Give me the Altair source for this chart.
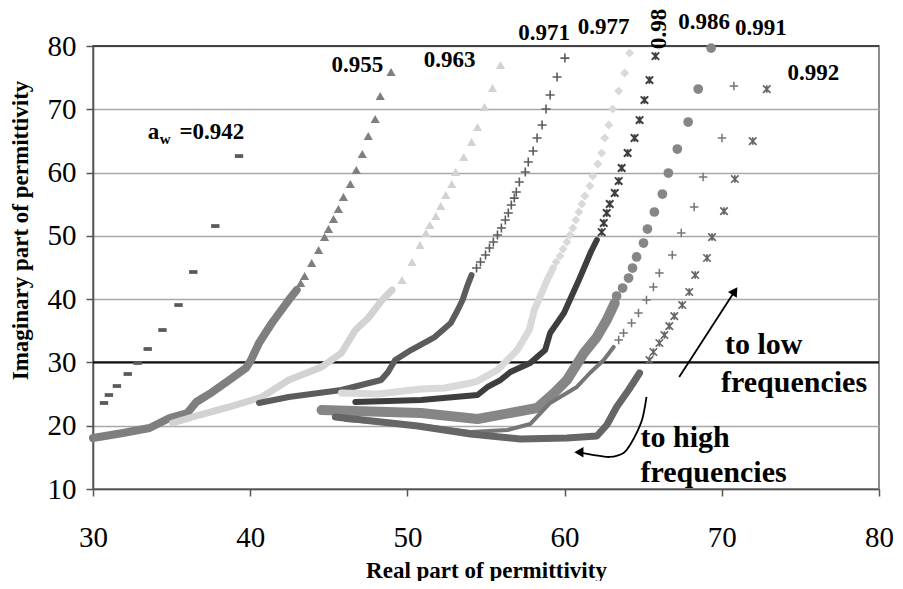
import altair as alt
import pandas as pd

# ---------------- data ----------------
# a_w = 0.942 (dash markers only)
m942_x = [30.70, 31.01, 31.52, 32.21, 32.84, 33.48, 34.42, 35.44, 36.38, 37.78, 39.29]
m942_y = [23.59, 24.85, 26.27, 28.17, 29.91, 32.12, 35.12, 39.07, 44.29, 51.55, 62.61]

# 0.955 triangles
t955_x = [30.00, 31.90, 33.60, 34.87, 36.00, 36.57, 37.59, 38.85, 39.73, 40.05, 40.56, 41.38, 42.45, 42.96]
t955_y = [18.06, 18.85, 19.64, 21.22, 22.01, 23.75, 25.32, 27.54, 29.12, 30.38, 33.07, 36.23, 39.86, 41.44]
m955_x = [43.21, 43.46, 43.91, 44.35, 44.73, 44.98, 45.30, 45.61, 45.93, 46.37, 46.75, 47.13, 47.51, 47.95, 48.27, 48.96]
m955_y = [42.55, 43.65, 45.70, 47.76, 49.81, 51.08, 52.66, 54.24, 56.13, 58.19, 60.40, 62.93, 65.77, 68.46, 72.09, 75.89]

# 0.963 light triangles
t963_x = [35.06, 36.76, 38.66, 40.75, 42.45, 44.54, 45.80, 46.69, 47.51, 48.39, 49.03]
t963_y = [20.43, 21.69, 22.96, 24.54, 27.22, 29.28, 31.49, 35.12, 37.02, 39.86, 41.44]
m963_x = [49.66, 50.29, 50.80, 51.18, 51.43, 51.81, 52.12, 52.44, 52.82, 53.07, 53.58, 54.08, 54.46, 54.91, 55.41, 55.92]
m963_y = [43.02, 45.87, 48.55, 50.44, 51.71, 53.13, 54.71, 56.45, 58.19, 60.08, 62.45, 64.82, 67.19, 70.35, 73.35, 76.98]

# 0.971 plus
t971_x = [40.56, 42.45, 45.80, 48.33, 48.77, 49.22, 50.23, 51.74, 52.76, 53.20, 53.51, 53.83, 54.08]
t971_y = [23.59, 24.54, 25.64, 27.22, 28.49, 30.38, 31.96, 34.01, 36.23, 38.28, 39.86, 42.23, 43.81]
m971_x = [54.40, 54.65, 54.97, 55.22, 55.47, 55.73, 55.98, 56.23, 56.42, 56.61, 56.80, 56.93,
          57.12, 57.50, 57.69, 58.00, 58.25, 58.57, 58.82, 59.08, 59.52, 60.02]
m971_y = [44.92, 45.87, 46.97, 48.08, 49.03, 50.13, 51.24, 52.50, 53.61, 54.87, 55.97, 56.93,
          58.50, 60.08, 61.66, 63.40, 65.46, 67.51, 70.04, 72.25, 75.09, 78.09]

# 0.977 light diamonds
t977_x = [45.80, 48.14, 50.86, 52.38, 54.02, 54.46, 55.73, 56.99, 57.75, 58.07, 58.89, 59.27]
t977_y = [25.17, 25.01, 25.80, 25.96, 26.75, 27.06, 28.80, 31.96, 35.12, 38.28, 43.02, 44.92]
m977_x = [59.46, 59.71, 59.90, 60.15, 60.34, 60.53, 60.72, 60.91, 61.10, 61.29, 61.61, 61.79,
          62.11, 62.36, 62.55, 62.81, 63.06, 63.44, 63.82, 64.13]
m977_y = [45.87, 46.81, 47.92, 49.03, 50.13, 51.24, 52.50, 53.77, 55.03, 56.29, 57.87, 59.45,
          61.35, 63.09, 65.46, 67.51, 70.04, 72.88, 75.73, 78.89]

# 0.98 dark stars
t980_x = [46.69, 50.86, 54.46, 55.10, 55.92, 56.55, 57.81, 58.76, 59.08, 59.96, 60.91, 61.29, 61.67, 62.05]
t980_y = [23.75, 24.06, 24.85, 26.12, 27.22, 28.49, 29.91, 31.96, 34.65, 37.81, 43.02, 45.23, 47.45, 49.34]
m980_x = [62.36, 62.49, 62.68, 62.87, 63.19, 63.44, 63.63, 64.01, 64.45, 64.77, 65.08, 65.40, 65.78]
m980_y = [50.60, 52.03, 53.61, 55.03, 56.77, 58.66, 60.72, 63.09, 65.46, 68.30, 71.46, 74.62, 78.41]

# 0.986 circles
t986_x = [44.54, 50.86, 54.46, 58.25, 59.33, 60.15, 61.23, 62.05, 62.68, 63.19]
t986_y = [22.48, 22.01, 21.06, 22.80, 25.17, 27.22, 31.49, 34.01, 36.70, 39.39]
m986_x = [63.31, 63.69, 64.07, 64.32, 64.58, 65.02, 65.27, 65.71, 66.22, 66.60, 67.17, 67.86, 68.50, 69.32]
m986_y = [40.49, 41.76, 43.34, 44.92, 46.66, 48.87, 51.08, 53.77, 56.61, 59.93, 63.72, 67.98, 73.20, 79.67]

# 0.991 plus
t991_x = [46.06, 50.67, 54.02, 56.36, 57.81, 59.08, 60.78, 61.61, 62.49, 63.12]
t991_y = [20.90, 20.11, 19.01, 19.32, 20.27, 23.59, 26.12, 28.33, 30.38, 32.44]
m991_x = [63.44, 63.75, 64.26, 64.70, 65.21, 65.65, 66.03, 66.85, 67.42, 68.24, 68.81, 70.01, 70.77]
m991_y = [33.54, 34.65, 36.23, 37.81, 39.86, 41.92, 44.13, 46.97, 50.44, 54.56, 59.30, 65.46, 73.67]

# 0.992 stars
t992_x = [45.42, 50.67, 54.02, 57.18, 60.15, 62.05, 62.68, 63.31, 64.07, 64.77]
t992_y = [21.38, 19.95, 18.69, 17.90, 18.06, 18.37, 20.11, 22.96, 25.64, 28.33]
m992_x = [65.40, 65.65, 66.03, 66.35, 66.66, 66.98, 67.48, 67.93, 68.31, 69.06, 69.38, 70.14, 70.83, 71.97, 72.86]
m992_y = [30.38, 31.65, 33.07, 34.33, 35.75, 37.33, 39.07, 41.13, 43.81, 46.50, 49.81, 53.92, 58.98, 64.98, 73.20]

# series labels
lab_text = ["0.955", "0.963", "0.971", "0.977", "0.986", "0.991", "0.992"]
lab_x = [46.81, 52.69, 58.70, 62.49, 68.87, 72.48, 75.83]
lab_y = [76.98, 77.78, 82.04, 83.00, 83.78, 82.84, 75.73]
rot_text = ["0.98"]
rot_x = [66.03]
rot_y = [82.70]

# annotations
note_text = ["to low", "frequencies", "to high", "frequencies"]
note_x = [70.20, 69.95, 64.83, 64.83]
note_y = [32.75, 26.75, 18.06, 12.53]

arrow1_x = [67.29, 70.83]
arrow1_y = [27.69, 41.28]
arrow2_x = [65.21, 64.96, 64.58, 64.20, 63.75, 62.87, 61.86, 61.10]
arrow2_y = [24.54, 21.22, 18.85, 17.11, 15.69, 15.06, 15.37, 15.69]

y_ticks = [10, 20, 30, 40, 50, 60, 70, 80]
x_ticks = [30, 40, 50, 60, 70, 80]

# ---------------- chart ----------------
SERIF = "Liberation Serif"
W, H = 786, 443

X = alt.X("x:Q", scale=alt.Scale(domain=[30, 80], nice=False, zero=False),
          axis=alt.Axis(values=x_ticks, grid=False, title="Real part of permittivity",
                        labelFont=SERIF, labelFontSize=29, labelColor="black",
                        labelPadding=27, tickSize=7, labelFlush=False,
                        titleFont=SERIF, titleFontSize=23, titleFontWeight="bold",
                        titleColor="black", titleX=W / 2, titleY=81, titleBaseline="middle"))
Y = alt.Y("y:Q", scale=alt.Scale(domain=[10, 80], nice=False, zero=False),
          axis=alt.Axis(values=y_ticks, grid=True, gridColor="#a8a8a8", gridWidth=1.3,
                        title="Imaginary part of permittivity",
                        labelFont=SERIF, labelFontSize=29, labelColor="black",
                        labelPadding=10, tickSize=7, labelFlush=False,
                        titleFont=SERIF, titleFontSize=23, titleFontWeight="bold",
                        titleColor="black", titleAngle=270, titleX=-73, titleY=184,
                        titleBaseline="middle", titleAlign="center"))


def frame(xs, ys):
    return pd.DataFrame({"x": xs, "y": ys, "i": list(range(len(xs)))})


layers = []

# horizontal reference rules
layers.append(alt.Chart(pd.DataFrame({"y": [30]})).mark_rule(color="#111111", strokeWidth=2.2)
              .encode(y=Y))
layers.append(alt.Chart(pd.DataFrame({"y": [80]})).mark_rule(color="#444444", strokeWidth=2)
              .encode(y=Y))

PLUS = "M-1,0L1,0M0,-1L0,1"
STAR = "M-1,-1L1,1M-1,1L1,-1M0,-1L0,1"
DASH = "M-1,-0.45L1,-0.45L1,0.45L-1,0.45Z"

series = [
    # trail x, trail y, marker x, marker y, color, width, shape, size, filled, stroke
    (None, None, m942_x, m942_y, "#5a5a5a", 0, DASH, 70, True, 1),
    (t955_x, t955_y, m955_x, m955_y, "#7f7f7f", 8, "triangle-up", 85, True, 1),
    (t963_x, t963_y, m963_x, m963_y, "#d2d2d2", 7, "triangle-up", 85, True, 1),
    (t971_x, t971_y, m971_x, m971_y, "#5c5c5c", 6, PLUS, 81, False, 1.6),
    (t977_x, t977_y, m977_x, m977_y, "#d9d9d9", 7, "diamond", 80, True, 1),
    (t980_x, t980_y, m980_x, m980_y, "#3e3e3e", 6, STAR, 56, False, 1.9),
    (t986_x, t986_y, m986_x, m986_y, "#868686", 10, "circle", 95, True, 1),
    (t991_x, t991_y, m991_x, m991_y, "#767676", 4, PLUS, 72, False, 1.5),
    (t992_x, t992_y, m992_x, m992_y, "#666666", 7, STAR, 56, False, 1.7),
]

for tx, ty, mx, my, col, w, shp, sz, filled, sw in series:
    if tx is not None:
        layers.append(alt.Chart(frame(tx, ty)).mark_line(
            color=col, strokeWidth=w, strokeCap="round", strokeJoin="round"
        ).encode(x=X, y=Y, order="i:Q"))
    layers.append(alt.Chart(frame(mx, my)).mark_point(
        shape=shp, size=sz, filled=filled, color=col, opacity=1, strokeWidth=sw
    ).encode(x=X, y=Y))

# series labels
lab_df = pd.DataFrame({"x": lab_x, "y": lab_y, "t": lab_text})
layers.append(alt.Chart(lab_df).mark_text(
    font=SERIF, fontSize=23, fontWeight="bold", color="black", align="center", baseline="middle"
).encode(x=X, y=Y, text="t:N"))
rot_df = pd.DataFrame({"x": rot_x, "y": rot_y, "t": rot_text})
layers.append(alt.Chart(rot_df).mark_text(
    font=SERIF, fontSize=23, fontWeight="bold", color="black", align="center", baseline="middle",
    angle=270
).encode(x=X, y=Y, text="t:N"))

# a_w = 0.942 label
layers.append(alt.Chart(pd.DataFrame({"x": [33.48], "y": [66.40], "t": ["a"]})).mark_text(
    font=SERIF, fontSize=23, fontWeight="bold", color="black", align="left", baseline="middle"
).encode(x=X, y=Y, text="t:N"))
layers.append(alt.Chart(pd.DataFrame({"x": [34.24], "y": [65.30], "t": ["w"]})).mark_text(
    font=SERIF, fontSize=15, fontWeight="bold", color="black", align="left", baseline="middle"
).encode(x=X, y=Y, text="t:N"))
layers.append(alt.Chart(pd.DataFrame({"x": [35.50], "y": [66.40], "t": ["=0.942"]})).mark_text(
    font=SERIF, fontSize=23, fontWeight="bold", color="black", align="left", baseline="middle"
).encode(x=X, y=Y, text="t:N"))

# annotations
note_df = pd.DataFrame({"x": note_x, "y": note_y, "t": note_text})
layers.append(alt.Chart(note_df).mark_text(
    font=SERIF, fontSize=30, fontWeight="bold", color="black", align="left", baseline="middle"
).encode(x=X, y=Y, text="t:N"))

# arrows
layers.append(alt.Chart(frame(arrow1_x, arrow1_y)).mark_line(color="black", strokeWidth=1.8)
              .encode(x=X, y=Y, order="i:Q"))
layers.append(alt.Chart(frame(arrow1_x[-1:], arrow1_y[-1:])).mark_point(
    shape="triangle-up", angle=33, size=110, filled=True, color="black", opacity=1
).encode(x=X, y=Y))
layers.append(alt.Chart(frame(arrow2_x, arrow2_y)).mark_line(
    color="black", strokeWidth=1.8, interpolate="cardinal"
).encode(x=X, y=Y, order="i:Q"))
layers.append(alt.Chart(frame([60.91], [15.80])).mark_point(
    shape="triangle-left", size=110, filled=True, color="black", opacity=1
).encode(x=X, y=Y))

chart = alt.layer(*layers).properties(
    width=W, height=H,
    autosize=alt.AutoSizeParams(type="none"),
    padding={"left": 85, "top": 38, "right": 16, "bottom": 92},
    background="white",
).configure_view(
    stroke="#8c8c8c", strokeWidth=2
).configure_axis(
    domainColor="#555555", domainWidth=1.6, tickColor="#555555", tickWidth=1.5
)

chart.save("out.html", embed_options={"renderer": "svg", "actions": False})
